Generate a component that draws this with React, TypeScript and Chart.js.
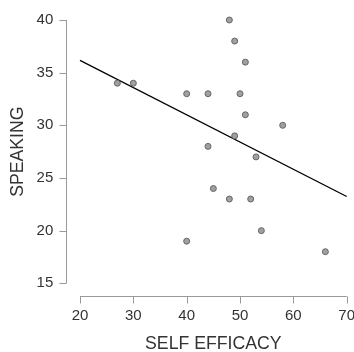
import React, { useEffect, useRef } from "react";
import { Chart, registerables } from "chart.js";

Chart.register(...registerables);

const selfEfficacy = [48, 49, 51, 40, 44, 50, 51, 58, 49, 44, 53, 27, 30, 45, 48, 52, 54, 40, 66];
const speaking = [40, 38, 36, 33, 33, 33, 31, 30, 29, 28, 27, 34, 34, 24, 23, 23, 20, 19, 18];
const xTicks = [20, 30, 40, 50, 60, 70];
const yTicks = [15, 20, 25, 30, 35, 40];
const xTitle = "SELF EFFICACY";
const yTitle = "SPEAKING";

const FONT = "'Liberation Sans', Arial, Helvetica, sans-serif";

function fitLine(xs: number[], ys: number[]) {
  const n = xs.length;
  const mx = xs.reduce((a, b) => a + b, 0) / n;
  const my = ys.reduce((a, b) => a + b, 0) / n;
  let sxy = 0, sxx = 0;
  for (let i = 0; i < n; i++) {
    sxy += (xs[i] - mx) * (ys[i] - my);
    sxx += (xs[i] - mx) ** 2;
  }
  const b = sxy / sxx;
  const a = my - b * mx;
  const x0 = xTicks[0];
  const x1 = xTicks[xTicks.length - 1];
  return [
    { x: x0, y: a + b * x0 },
    { x: x1, y: a + b * x1 },
  ];
}

const detachedAxes = {
  id: "detachedAxes",
  afterDraw(chart: any) {
    const ctx = chart.ctx;
    const xs = chart.scales.x;
    const ys = chart.scales.y;
    const area = chart.chartArea;
    ctx.save();
    ctx.strokeStyle = "#999999";
    ctx.lineWidth = 1;
    // y axis
    const ax = Math.round(area.left - 14) + 0.5;
    const yTop = ys.getPixelForValue(yTicks[yTicks.length - 1]);
    const yBot = ys.getPixelForValue(yTicks[0]);
    ctx.beginPath();
    ctx.moveTo(ax, yTop);
    ctx.lineTo(ax, yBot);
    yTicks.forEach((v) => {
      const p = Math.round(ys.getPixelForValue(v)) + 0.5;
      ctx.moveTo(ax - 7, p);
      ctx.lineTo(ax, p);
    });
    ctx.stroke();
    // x axis
    const ay = Math.round(area.bottom + 12.7) + 0.5;
    const xL = xs.getPixelForValue(xTicks[0]);
    const xR = xs.getPixelForValue(xTicks[xTicks.length - 1]);
    ctx.beginPath();
    ctx.moveTo(xL, ay);
    ctx.lineTo(xR, ay);
    xTicks.forEach((v) => {
      const p = Math.round(xs.getPixelForValue(v)) + 0.5;
      ctx.moveTo(p, ay);
      ctx.lineTo(p, ay + 7);
    });
    ctx.stroke();
    ctx.restore();
  },
};

function zeroPadding(s: any) {
  s.paddingLeft = 0;
  s.paddingRight = 0;
  s.paddingTop = 0;
  s.paddingBottom = 0;
}

export default function App() {
  const ref = useRef<HTMLCanvasElement | null>(null);

  useEffect(() => {
    document.body.style.margin = "0";
    if (!ref.current) return;
    const chart = new Chart(ref.current, {
      type: "scatter",
      data: {
        datasets: [
          {
            label: "points",
            data: selfEfficacy.map((x, i) => ({ x, y: speaking[i] })),
            pointRadius: 3,
            pointHoverRadius: 3,
            backgroundColor: "#a0a0a0",
            borderColor: "#666666",
            borderWidth: 1,
            clip: false as any,
            order: 1,
          } as any,
          {
            label: "fit",
            type: "line" as any,
            data: fitLine(selfEfficacy, speaking),
            borderColor: "#000000",
            borderWidth: 1.3,
            pointRadius: 0,
            fill: false,
            clip: false as any,
            order: 2,
          } as any,
        ],
      },
      options: {
        animation: false,
        responsive: true,
        maintainAspectRatio: false,
        events: [],
        layout: { padding: { top: 20, right: 7.3, left: 0, bottom: 0 } },
        plugins: { legend: { display: false }, tooltip: { enabled: false } },
        scales: {
          x: {
            type: "linear",
            position: "bottom",
            min: xTicks[0],
            max: xTicks[xTicks.length - 1],
            afterBuildTicks: (s: any) => {
              s.ticks = xTicks.map((v) => ({ value: v }));
            },
            afterFit: (s: any) => {
              s.height = 68.7;
              zeroPadding(s);
            },
            grid: { display: false, drawTicks: false },
            border: { display: false },
            ticks: {
              autoSkip: false,
              maxRotation: 0,
              padding: 23.5,
              color: "#333333",
              font: { family: FONT, size: 15 },
            },
            title: {
              display: true,
              text: xTitle,
              color: "#333333",
              font: { family: FONT, size: 17.7, lineHeight: 1 },
              padding: { top: 0, bottom: -0.5 },
            },
          },
          y: {
            type: "linear",
            position: "left",
            min: yTicks[0],
            max: yTicks[yTicks.length - 1],
            afterBuildTicks: (s: any) => {
              s.ticks = yTicks.map((v) => ({ value: v }));
            },
            afterFit: (s: any) => {
              s.width = 80;
              zeroPadding(s);
            },
            grid: { display: false, drawTicks: false },
            border: { display: false },
            ticks: {
              autoSkip: false,
              padding: 26.7,
              color: "#333333",
              font: { family: FONT, size: 15 },
            },
            title: {
              display: true,
              text: yTitle,
              color: "#333333",
              font: { family: FONT, size: 17.7, lineHeight: 1 },
              padding: { top: 9.2, bottom: 0 },
            },
          },
        },
      },
      plugins: [detachedAxes],
    });
    return () => chart.destroy();
  }, []);

  return (
    <div style={{ position: "absolute", left: 0, top: 0, width: 354, height: 352 }}>
      <canvas ref={ref} />
    </div>
  );
}
